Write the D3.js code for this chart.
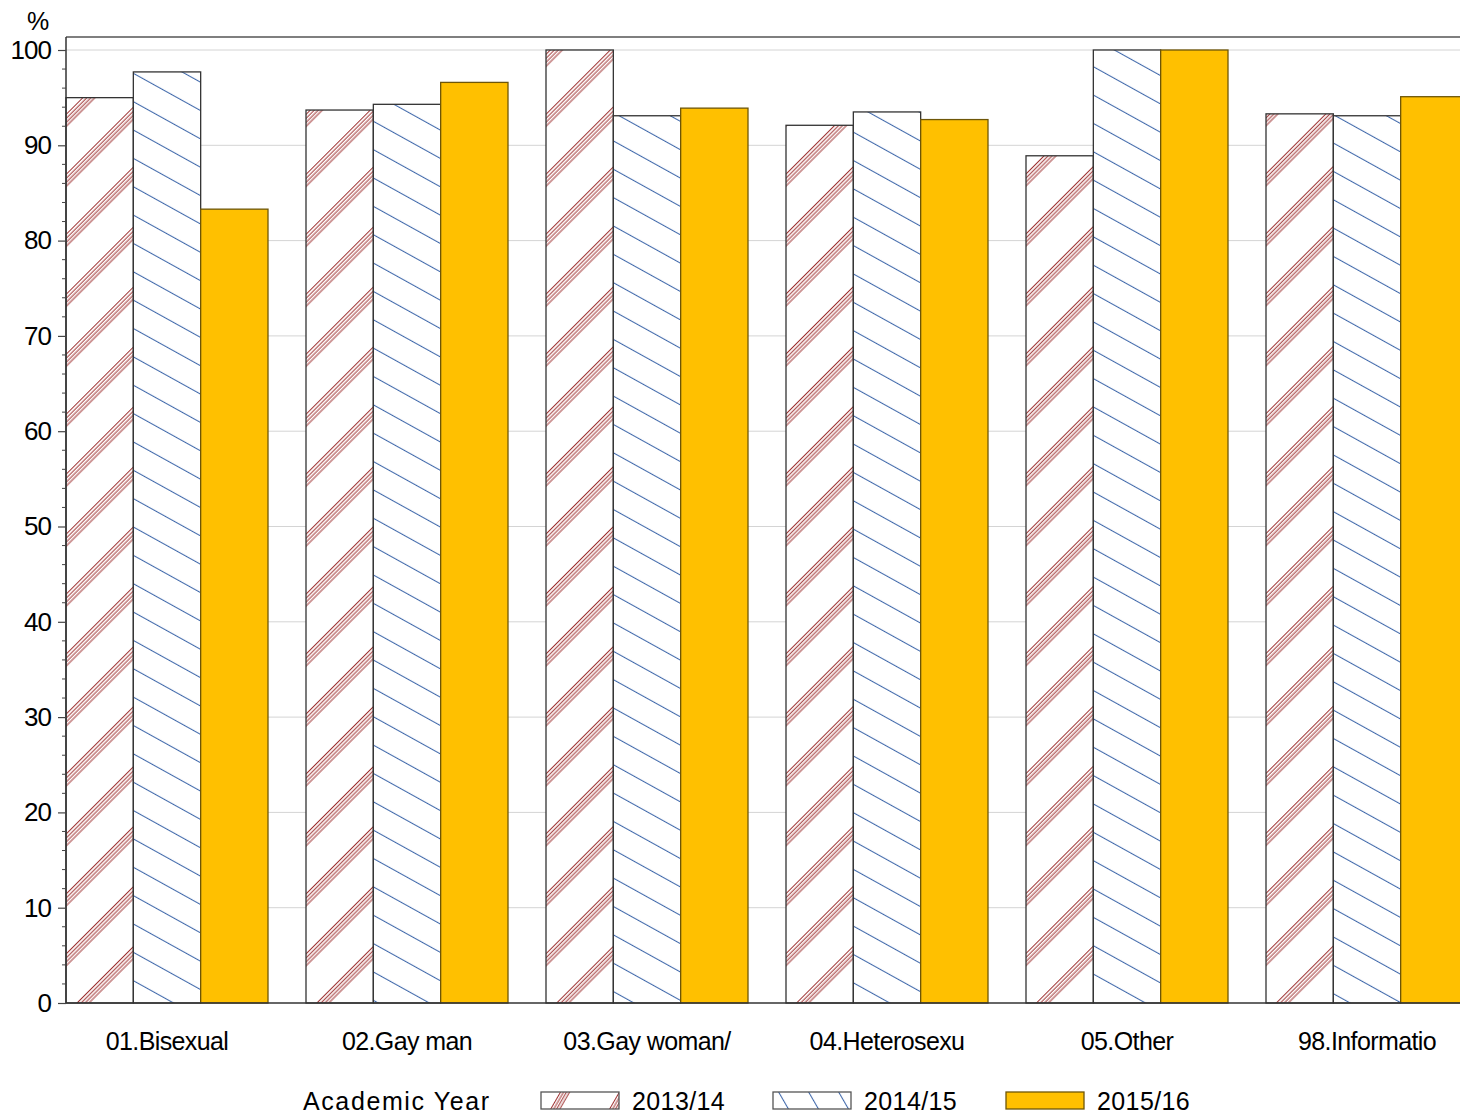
<!DOCTYPE html>
<html><head><meta charset="utf-8">
<script src="https://cdn.jsdelivr.net/npm/d3@7"></script>
<style>body{margin:0;background:#fff}svg{display:block}text{font-family:"Liberation Sans",Arial,sans-serif;fill:#000}</style>
</head><body>
<script>
const categories = ["01.Bisexual","02.Gay man","03.Gay woman/","04.Heterosexu","05.Other","98.Informatio"];
const years = ["2013/14","2014/15","2015/16"];
const values2013 = [95.0, 93.7, 100, 92.1, 88.9, 93.3];
const values2014 = [97.7, 94.3, 93.1, 93.5, 100, 93.1];
const values2015 = [83.3, 96.6, 93.9, 92.7, 100, 95.1];
const yTicks = [0,10,20,30,40,50,60,70,80,90,100];
const minorTicks = d3.range(0, 101, 2);

const W = 1460, H = 1114;
const svg = d3.select("body").append("svg").attr("width", W).attr("height", H);
const defs = svg.append("defs");

function redPattern(id, period, transform, spacing) {
  const p = defs.append("pattern").attr("id",id).attr("patternUnits","userSpaceOnUse")
    .attr("width",period).attr("height",10).attr("patternTransform",transform);
  p.append("rect").attr("width",period).attr("height",10).attr("fill","#fff");
  [0,1,2,3].forEach(k => p.append("line").attr("x1",k*spacing+0.5).attr("x2",k*spacing+0.5).attr("y1",0).attr("y2",10)
    .attr("stroke","#9e3030").attr("stroke-width",1));
}
function bluePattern(id, period, transform) {
  const p = defs.append("pattern").attr("id",id).attr("patternUnits","userSpaceOnUse")
    .attr("width",period).attr("height",10).attr("patternTransform",transform);
  p.append("rect").attr("width",period).attr("height",10).attr("fill","#fff");
  p.append("line").attr("x1",0.5).attr("x2",0.5).attr("y1",0).attr("y2",10)
    .attr("stroke","#3f68aa").attr("stroke-width",1.1);
}
redPattern("hRed", 42.4, "rotate(45)", 2.8);
bluePattern("hBlue", 24.8, "rotate(-61)");
redPattern("lRed", 51, "translate(560,1092) rotate(30)", 2.6);
bluePattern("lBlue", 26, "translate(778,1092) rotate(-30)");

const fills = ["url(#hRed)","url(#hBlue)","#FFC000"];
const legFills = ["url(#lRed)","url(#lBlue)","#FFC000"];
const strokes = ["#333","#333","#6e5608"];

const x0 = d3.scaleBand().domain(categories).range([66, 66 + 240*6 - 38]).paddingInner(38/240).paddingOuter(0);
const x1 = d3.scaleBand().domain(years).range([0, x0.bandwidth()]);
const y = d3.scaleLinear().domain([0,100]).range([1003, 50]);

// gridlines
svg.append("g").selectAll("line").data(yTicks.filter(d=>d>0)).join("line")
  .attr("x1",66).attr("x2",W).attr("y1",d=>y(d)).attr("y2",d=>y(d))
  .attr("stroke","#d4d4d4").attr("stroke-width",1);

// top frame
svg.append("line").attr("x1",66).attr("x2",W).attr("y1",37).attr("y2",37).attr("stroke","#555").attr("stroke-width",1.5);

const series = [values2013, values2014, values2015];
const g = svg.append("g");
series.forEach((vals, si) => {
  g.append("g").selectAll("rect").data(categories.map((c,i)=>({c, v: vals[i]}))).join("rect")
    .attr("x", d => x0(d.c) + x1(years[si]))
    .attr("y", d => y(d.v))
    .attr("width", x1.bandwidth())
    .attr("height", d => y(0) - y(d.v))
    .attr("fill", fills[si])
    .attr("stroke", strokes[si]).attr("stroke-width", 1.3);
});

// y axis
const yAxis = d3.axisLeft(y).tickValues(yTicks).tickSize(8).tickPadding(7);
const ya = svg.append("g").attr("transform","translate(66,0)").call(yAxis);
ya.select(".domain").attr("stroke","#333").attr("stroke-width",1.5).attr("d","M0,37V1003");
ya.selectAll(".tick line").attr("stroke","#444").attr("stroke-width",1.2);
ya.selectAll(".tick text").style("font-size","26px").style("letter-spacing","-1px").attr("font-family","Liberation Sans, Arial").attr("fill","#000");
svg.append("g").attr("transform","translate(66,0)").selectAll("line")
  .data(minorTicks.filter(d=>d%10!==0)).join("line")
  .attr("x1",-4).attr("x2",0).attr("y1",d=>y(d)).attr("y2",d=>y(d)).attr("stroke","#444").attr("stroke-width",1);

// x axis
const xAxis = d3.axisBottom(x0).tickSize(0).tickPadding(42);
const xa = svg.append("g").attr("transform","translate(0,1003)").call(xAxis);
xa.select(".domain").attr("stroke","#333").attr("stroke-width",1.5).attr("d","M66,0H"+W);
xa.selectAll(".tick text").style("font-size","25px").style("letter-spacing","-0.6px")
  .attr("font-family","Liberation Sans, Arial").attr("fill","#000").attr("dy","0.2em");

// % label
svg.append("text").attr("x",38).attr("y",30).attr("text-anchor","middle").style("font-size","25px").text("%");

// legend
svg.append("text").attr("x",303).attr("y",1110).style("font-size","25px").style("letter-spacing","1.6px").text("Academic Year");
const legX = [541, 773, 1006];
years.forEach((yr, i) => {
  svg.append("rect").attr("x",legX[i]).attr("y",1092).attr("width",78).attr("height",17)
    .attr("fill",legFills[i]).attr("stroke", i===2 ? "#6e5608" : "#555").attr("stroke-width",1.3);
  svg.append("text").attr("x",legX[i]+91).attr("y",1110).style("font-size","25px").style("letter-spacing","0.4px").text(yr);
});
</script>
</body></html>
